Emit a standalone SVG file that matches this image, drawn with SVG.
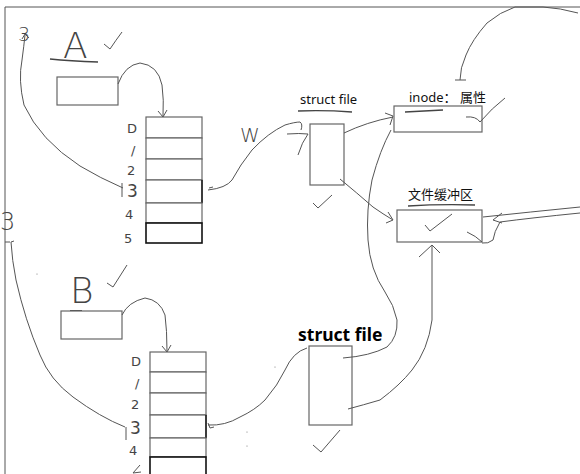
<svg xmlns="http://www.w3.org/2000/svg" width="580" height="474" viewBox="0 0 580 474">
<style>
.box{fill:#fff;stroke:#666;stroke-width:1.2}
.bold{fill:#fff;stroke:#111;stroke-width:1.6}
.ln{fill:none;stroke:#555;stroke-width:1}
.ul{fill:none;stroke:#444;stroke-width:1.3}
.hand{font-family:"DejaVu Sans",sans-serif;fill:#444}
.lbl{font-family:"Noto Sans","Noto Sans CJK SC",sans-serif;font-size:13px;fill:#111}
.big{font-family:"Noto Sans","Liberation Sans",sans-serif;font-size:17.5px;font-weight:bold;fill:#000}
</style>
<rect width="580" height="474" fill="#fff"/>
<g id="frame">
<path class="ln" d="M5,7 V474 M5,7 H580" stroke="#444"/>
</g>
<g id="procA">
<text class="hand" x="63" y="58" font-size="36" font-weight="200">A</text>
<path class="ul" d="M50,59 Q70,61 98,62"/>
<path class="ln" d="M104,44 L110,49 Q116,40 122,32"/>
<rect class="box" x="57" y="77" width="61" height="28"/>
</g>
<g id="fdtableA">
<rect class="box" x="146" y="117" width="56" height="21"/>
<rect class="box" x="146" y="138" width="56" height="21"/>
<rect class="box" x="146" y="159" width="56" height="21"/>
<rect class="box" x="146" y="180" width="56" height="23"/>
<path d="M202,180 V203" stroke="#222" stroke-width="1.6"/>
<rect class="box" x="146" y="203" width="56" height="20"/>
<rect class="bold" x="146" y="223" width="56" height="20"/>
<g class="hand" font-size="13">
<text x="127" y="133">D</text>
<text x="131" y="155">/</text>
<text x="127" y="175">2</text>
<text x="127" y="197" font-size="17">3</text>
<text x="125" y="219">4</text>
<text x="124" y="243">5</text>
</g>
<path class="ln" d="M122,183 V197"/>
<path class="ln" d="M209,188 L213,187"/>
</g>
<g id="procB">
<text class="hand" x="70" y="303" font-size="36" font-weight="200">B</text>
<path d="M70,311 H82" stroke="#111" stroke-width="1.5"/>
<path class="ln" d="M107,283 L113,287 Q120,276 127,265"/>
<rect class="box" x="61" y="311" width="61" height="28"/>
</g>
<g id="fdtableB">
<rect class="box" x="150" y="352" width="56" height="20"/>
<rect class="box" x="150" y="372" width="56" height="21"/>
<rect class="box" x="150" y="393" width="56" height="22"/>
<rect class="box" x="150" y="415" width="56" height="23"/>
<path d="M206,415 V438" stroke="#222" stroke-width="1.6"/>
<rect class="box" x="150" y="438" width="56" height="19"/>
<rect class="bold" x="150" y="457" width="56" height="20"/>
<g class="hand" font-size="13">
<text x="131" y="366">D</text>
<text x="135" y="388">/</text>
<text x="131" y="409">2</text>
<text x="130" y="434" font-size="17">3</text>
<text x="129" y="455">4</text>
</g>
<path class="ln" d="M133,473 L140,465 M133,473 L141,472"/>
<path class="ln" d="M126,427 V440"/>
<path class="ln" d="M208,423 L210,428 L214,427"/>
</g>
<g id="structfile1">
<text class="lbl" x="300" y="104">struct file</text>
<path class="ul" d="M298,111 Q325,110 352,112"/>
<rect class="box" x="310" y="124" width="34" height="61"/>
<path class="ln" d="M313,203 L318,208 L332,195"/>
</g>
<g id="structfile2">
<text class="big" x="298" y="341">struct file</text>
<rect class="box" x="309" y="346" width="43" height="79"/>
<path class="ln" d="M340,430 L321,452 L313,445"/>
</g>
<g id="inode">
<text class="lbl" x="409" y="102">inode： 属性</text>
<rect class="box" x="394" y="106" width="88" height="26"/>
<path class="ul" d="M405,112 Q425,111 443,110"/>
<path class="ln" d="M466,117 Q476,116 480,122 Q492,108 505,98"/>
</g>
<g id="buffer">
<text class="lbl" x="408" y="199">文件缓冲区</text>
<path class="ul" d="M408,206 Q440,204 475,205"/>
<rect class="box" x="397" y="210" width="85" height="32"/>
<path class="ln" d="M425,225 L430,231 L452,214"/>
<path class="ln" d="M467,232 Q476,236 482,242"/>
</g>
<g id="marks">
<text class="hand" x="18" y="41" font-size="19" font-weight="200">3</text>
<text class="hand" x="0" y="230" font-size="24" font-weight="200">3</text>
<text class="hand" x="240" y="142" font-size="20" font-weight="200">W</text>
<circle cx="247" cy="432" r="0.6" fill="#777"/>
<circle cx="247" cy="446" r="0.6" fill="#777"/>
<circle cx="275" cy="367" r="0.6" fill="#777"/>
<circle cx="37" cy="274" r="0.6" fill="#777"/>
</g>
<g id="connectors">
<path class="ln" d="M118,84 Q125,65 140,63 Q158,65 162,85 Q164,100 163,116"/>
<path class="ln" d="M158,111 L163,117 L167,110"/>
<path class="ln" d="M123,188 Q100,178 80,166 Q40,140 24,105 Q18,80 22,60 Q24,45 25,35"/>
<path class="ln" d="M22,39 L25,34 L29,38"/>
<path class="ln" d="M208,190 Q226,188 232,180 Q240,165 252,150 Q268,133 285,125 Q295,122 300,122 Q303,124 301,130"/>
<path class="ln" d="M287,134 Q300,133 308,134 Q302,142 298,155"/>
<path class="ln" d="M344,133 Q367,122 393,117"/>
<path class="ln" d="M385,113 L393,116 L390,125"/>
<path class="ln" d="M340,179 Q357,193 373,207 Q383,214 393,220"/>
<path class="ln" d="M388,212 L393,220 L386,223"/>
<path class="ln" d="M578,13 Q560,8 543,7 L515,7 Q500,12 487,23 Q472,40 466,55 Q460,68 460,80"/>
<path class="ln" d="M455,80 H466"/>
<path class="ln" d="M580,207 Q530,212 483,217"/>
<path class="ln" d="M502,213 L493,220 L502,223"/>
<path class="ln" d="M580,213 Q530,218 500,222 Q494,232 493,240 Q488,244 482,243"/>
<path class="ln" d="M348,409 Q363,405 380,400 Q400,385 412,370 Q428,350 432,320 L432,246"/>
<path class="ln" d="M419,257 L432,245 L440,253"/>
<path class="ln" d="M343,358 Q370,356 387,347 Q398,337 397,320 Q394,305 385,292 Q370,270 368,240 Q366,210 372,180 Q380,150 391,130"/>
<path class="ln" d="M122,315 Q128,302 145,298 Q160,300 165,315 Q167,330 167,351"/>
<path class="ln" d="M162,346 L167,352 L171,345"/>
<path class="ln" d="M125,427 Q100,417 73,397 Q50,380 40,355 Q25,320 16,280 Q12,260 11,242"/>
<path class="ln" d="M5,242 H10 M11,242 L14,241"/>
<path class="ln" d="M208,425 Q225,426 240,417 Q255,410 265,400 Q278,385 285,370 Q293,352 307,348"/>
</g>
</svg>
